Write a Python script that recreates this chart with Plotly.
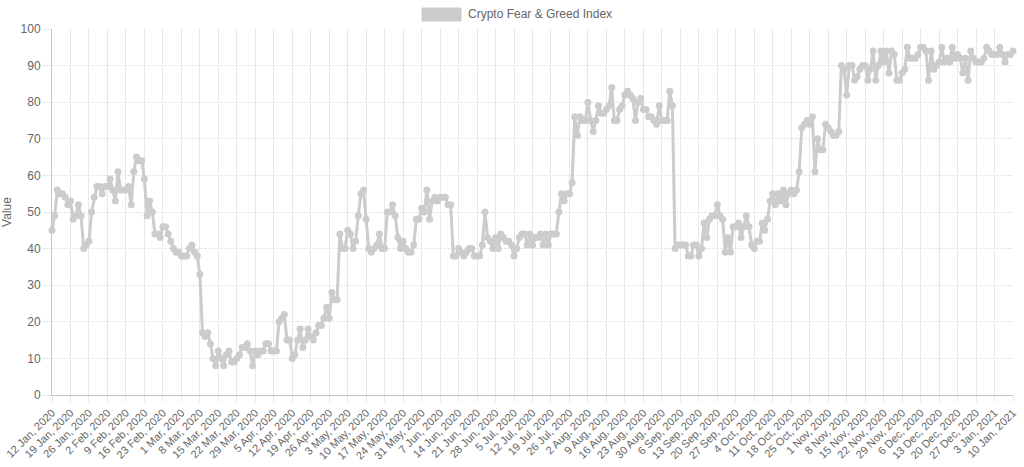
import pandas as pd
import plotly.graph_objects as go

start_date = "2020-01-12"
series_name = "Crypto Fear & Greed Index"
y_title = "Value"

jan_2020 = [45, 49, 56, 55, 55, 54, 52, 53, 48, 49, 52, 49, 40, 41, 42, 50, 54, 57, 57, 55]
feb_2020 = [57, 57, 59, 56, 53, 61, 56, 56, 56, 57, 52, 61, 65, 64, 64, 59, 49, 53, 50, 44,
            44, 43, 46, 46, 44, 42, 40, 39, 39]
mar_2020 = [38, 38, 38, 40, 41, 39, 38, 33, 17, 16, 17, 14, 10, 8, 12, 10, 8, 11, 12, 9,
            9, 10, 11, 13, 13, 14, 12, 8, 12, 11, 12]
apr_2020 = [12, 14, 14, 12, 12, 12, 20, 21, 22, 15, 15, 10, 11, 15, 18, 13, 15, 18, 16, 15,
            17, 19, 19, 21, 24, 21, 28, 26, 26, 44]
may_2020 = [40, 40, 45, 44, 40, 42, 49, 55, 56, 48, 40, 39, 40, 41, 44, 40, 40, 50, 50, 52,
            49, 43, 40, 42, 40, 39, 39, 41, 48, 48, 51]
jun_2020 = [50, 56, 48, 53, 54, 53, 54, 54, 54, 52, 52, 38, 38, 40, 39, 38, 39, 40, 40, 38,
            38, 38, 41, 50, 43, 42, 40, 43, 40, 44]
jul_2020 = [43, 42, 42, 41, 38, 40, 43, 44, 44, 41, 44, 41, 43, 43, 44, 41, 44, 41, 44, 44,
            44, 50, 55, 53, 55, 55, 58, 76, 71, 76, 75]
aug_2020 = [75, 80, 75, 72, 75, 79, 77, 77, 78, 79, 84, 75, 75, 78, 79, 82, 83, 82, 81, 75,
            80, 81, 78, 78, 76, 76, 75, 74, 79, 75, 75]
sep_2020 = [75, 83, 79, 40, 41, 41, 41, 41, 38, 38, 41, 41, 38, 40, 47, 43, 48, 49, 49, 52,
            49, 48, 39, 43, 39, 46, 46, 47, 43, 46]
oct_2020 = [49, 46, 41, 40, 42, 42, 47, 45, 48, 53, 55, 52, 55, 53, 56, 52, 55, 56, 55, 56,
            61, 73, 74, 75, 74, 76, 61, 70, 67, 67, 74]
nov_2020 = [73, 72, 71, 71, 72, 90, 89, 82, 90, 90, 86, 87, 89, 90, 90, 86, 89, 94, 86, 90,
            94, 91, 94, 88, 94, 93, 86, 86, 88, 89]
dec_2020 = [95, 92, 92, 92, 93, 95, 95, 94, 86, 94, 89, 90, 91, 95, 91, 92, 91, 95, 92, 93,
            92, 88, 92, 86, 94, 92, 91, 91, 91, 92, 95]
jan_2021 = [94, 93, 93, 93, 95, 93, 91, 93, 93, 94]

values = (jan_2020 + feb_2020 + mar_2020 + apr_2020 + may_2020 + jun_2020 + jul_2020
          + aug_2020 + sep_2020 + oct_2020 + nov_2020 + dec_2020 + jan_2021)
dates = pd.date_range(start_date, periods=len(values), freq="D")
tick_dates = list(dates[::7])
tick_text = [f"{d.day} {d.strftime('%b')}, {d.year}" for d in tick_dates]
y_ticks = list(range(0, 101, 10))

LINE = "#cccccc"
GRID = "#e8e8e8"
TEXT = "#666666"
FONT = "Liberation Sans, Arial, Helvetica, sans-serif"

fig = go.Figure()
fig.add_trace(go.Scatter(
    x=dates, y=values, mode="lines+markers", name=series_name,
    line=dict(color=LINE, width=3),
    marker=dict(size=7, color=LINE),
    cliponaxis=False, showlegend=False,
))

L, R, T, B = 52, 11, 29, 72
W, H = 1024, 467
pw, ph = W - L - R, H - T - B

def px_x(px):
    return (px - L) / pw

def px_y(py):
    return (H - B - py) / ph

fig.add_shape(type="rect", xref="paper", yref="paper",
              x0=px_x(422), x1=px_x(461), y0=px_y(21), y1=px_y(8),
              fillcolor=LINE, line=dict(color=LINE, width=1))
fig.add_annotation(xref="paper", yref="paper", x=px_x(466), y=px_y(14.5),
                   xanchor="left", yanchor="middle", showarrow=False,
                   text=series_name, font=dict(size=12, color=TEXT, family=FONT))

fig.update_layout(
    width=W, height=H,
    margin=dict(l=L, r=R, t=T, b=B, pad=0),
    paper_bgcolor="white", plot_bgcolor="white",
    font=dict(family=FONT, size=12, color=TEXT),
    xaxis=dict(
        type="date", range=[dates[0], dates[-1]],
        tickmode="array", tickvals=tick_dates, ticktext=tick_text,
        tickangle=-45, tickfont=dict(size=11, color=TEXT),
        showgrid=True, gridcolor=GRID, gridwidth=1,
        ticks="outside", ticklen=6, tickcolor=GRID,
        showline=True, linecolor="#c4c4c4", linewidth=1,
        zeroline=False, automargin=False,
    ),
    yaxis=dict(
        range=[0, 100], tickmode="array", tickvals=y_ticks,
        tickfont=dict(size=12, color=TEXT),
        showgrid=True, gridcolor=GRID, gridwidth=1, griddash="3px,1px",
        ticks="outside", ticklen=8, tickcolor=GRID,
        showline=True, linecolor="#c4c4c4", linewidth=1,
        zeroline=False, automargin=False,
        title=dict(text=y_title, font=dict(size=12, color=TEXT), standoff=12),
    ),
)

fig.write_html("out.html", config={"displayModeBar": False},
               post_script="document.body.style.margin='0';")
